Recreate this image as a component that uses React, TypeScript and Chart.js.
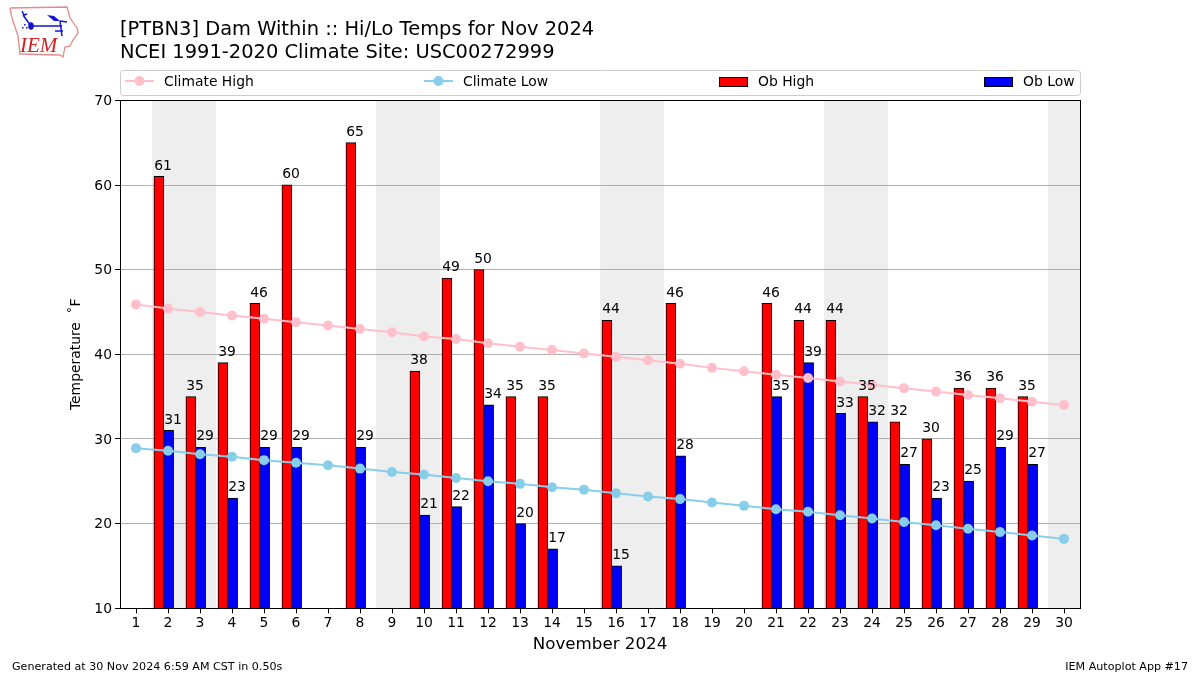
import React, { useEffect, useRef } from "react";
import { Chart, registerables } from "chart.js";

Chart.register(...registerables);

const days = Array.from({ length: 30 }, (_, i) => i + 1);
const obHighDays = [2, 3, 4, 5, 6, 8, 10, 11, 12, 13, 14, 16, 18, 21, 22, 23, 24, 25, 26, 27, 28, 29];
const obHigh = [61, 35, 39, 46, 60, 65, 38, 49, 50, 35, 35, 44, 46, 46, 44, 44, 35, 32, 30, 36, 36, 35];
const obLow = [31, 29, 23, 29, 29, 29, 21, 22, 34, 20, 17, 15, 28, 35, 39, 33, 32, 27, 23, 25, 29, 27];
const climateHigh = [45.9, 45.4, 45.0, 44.6, 44.2, 43.8, 43.4, 43.0, 42.6, 42.1, 41.8, 41.3, 40.9, 40.5, 40.1, 39.7, 39.3, 38.9, 38.4, 38.0, 37.6, 37.2, 36.8, 36.4, 36.0, 35.6, 35.2, 34.8, 34.4, 34.0];
const climateLow = [28.9, 28.6, 28.2, 27.9, 27.5, 27.2, 26.9, 26.5, 26.1, 25.8, 25.4, 25.0, 24.7, 24.3, 24.0, 23.6, 23.2, 22.9, 22.5, 22.1, 21.7, 21.4, 21.0, 20.6, 20.2, 19.8, 19.4, 19.0, 18.6, 18.2];
const weekendBands = [[1.5, 3.5], [8.5, 10.5], [15.5, 17.5], [22.5, 24.5], [29.5, 30.5]];
const titleLines = ["[PTBN3] Dam Within :: Hi/Lo Temps for Nov 2024", "NCEI 1991-2020 Climate Site: USC00272999"];
const footerLeft = "Generated at 30 Nov 2024 6:59 AM CST in 0.50s";
const footerRight = "IEM Autoplot App #17";
const xTitle = "November 2024";
const yTitle = "Temperature \u2009\u200A\u02DAF";

const FONT = '"DejaVu Sans"';
const HIGH_OFFSET = -0.285;
const LOW_OFFSET = 0.02;

const bandsPlugin = {
  id: "bands",
  beforeDraw(chart: any) {
    const { ctx, chartArea: a, scales } = chart;
    ctx.save();
    ctx.fillStyle = "#eeeeee";
    for (const [s, e] of weekendBands) {
      const l = scales.x.getPixelForValue(s);
      const r = scales.x.getPixelForValue(e);
      ctx.fillRect(l, a.top, r - l, a.bottom - a.top);
    }
    ctx.restore();
  },
};

const overlayPlugin = {
  id: "overlay",
  afterDatasetsDraw(chart: any) {
    const { ctx, chartArea: a, scales, data } = chart;
    ctx.save();
    // frame
    ctx.strokeStyle = "#000";
    ctx.lineWidth = 1;
    ctx.strokeRect(Math.floor(a.left) + 0.5, Math.floor(a.top) + 0.5, Math.round(a.right - a.left), Math.round(a.bottom - a.top));

    // value labels
    ctx.fillStyle = "#000";
    ctx.font = `13.9px ${FONT}`;
    ctx.textAlign = "center";
    ctx.textBaseline = "alphabetic";
    obHighDays.forEach((d, i) => {
      ctx.fillText(String(obHigh[i]), scales.x.getPixelForValue(d) - 5, Math.round(scales.y.getPixelForValue(obHigh[i]) - 7));
      ctx.fillText(String(obLow[i]), scales.x.getPixelForValue(d) + 5, Math.round(scales.y.getPixelForValue(obLow[i]) - 7));
    });

    // legend
    ctx.strokeStyle = "#cccccc";
    ctx.fillStyle = "#fff";
    ctx.beginPath();
    ctx.roundRect(120.5, 70.5, 960, 25, 3);
    ctx.fill();
    ctx.stroke();
    const slots = [
      { h: 125, t: 164 },
      { h: 424, t: 463 },
      { h: 719, t: 758 },
      { h: 984, t: 1023 },
    ];
    data.datasets.forEach((ds: any) => {
      const slot = slots[ds.legendIndex];
      if (ds.type === "line") {
        ctx.strokeStyle = ds.borderColor;
        ctx.lineWidth = 2;
        ctx.beginPath();
        ctx.moveTo(slot.h, 81);
        ctx.lineTo(slot.h + 29, 81);
        ctx.stroke();
        ctx.fillStyle = ds.borderColor;
        ctx.beginPath();
        ctx.arc(slot.h + 14.5, 81, 5, 0, Math.PI * 2);
        ctx.fill();
      } else {
        ctx.fillStyle = ds.backgroundColor;
        ctx.strokeStyle = "#000";
        ctx.lineWidth = 1;
        ctx.fillRect(slot.h, 77, 28, 9);
        ctx.strokeRect(slot.h + 0.5, 77.5, 28, 9);
      }
      ctx.fillStyle = "#000";
      ctx.font = `13.9px ${FONT}`;
      ctx.textAlign = "left";
      ctx.textBaseline = "alphabetic";
      ctx.fillText(ds.label, slot.t, 86);
    });

    // title
    ctx.font = `19.44px ${FONT}`;
    ctx.fillText(titleLines[0], 120, 35);
    ctx.fillText(titleLines[1], 120, 57.5);

    // footer
    ctx.font = `11.12px ${FONT}`;
    ctx.fillText(footerLeft, 12, 670);
    ctx.textAlign = "right";
    ctx.fillText(footerRight, 1188, 670);

    // logo
    ctx.strokeStyle = "#e58a8a";
    ctx.lineWidth = 1.3;
    ctx.beginPath();
    const outline = [[10, 8], [67, 7], [70, 18], [77, 28], [78, 33], [73, 40], [70, 46], [65, 47], [63, 57], [60, 55], [20, 54], [18, 36], [12, 18], [10, 8]];
    outline.forEach(([x, y], i) => (i ? ctx.lineTo(x, y) : ctx.moveTo(x, y)));
    ctx.stroke();
    ctx.strokeStyle = "#1414d2";
    ctx.fillStyle = "#1414d2";
    ctx.lineWidth = 1.5;
    ctx.beginPath();
    ctx.moveTo(31, 26); ctx.lineTo(62, 26);
    ctx.moveTo(31, 26); ctx.lineTo(23, 15);
    ctx.moveTo(22, 11); ctx.lineTo(24, 15); ctx.lineTo(27, 14);
    ctx.moveTo(60, 21); ctx.lineTo(67, 22);
    ctx.moveTo(60, 21); ctx.lineTo(62, 36);
    ctx.moveTo(55, 31); ctx.lineTo(63, 31);
    ctx.stroke();
    ctx.beginPath();
    ctx.ellipse(31, 26, 2.8, 3.8, 0, 0, Math.PI * 2);
    ctx.fill();
    ctx.beginPath();
    ctx.moveTo(47, 15); ctx.lineTo(54, 16); ctx.lineTo(60, 21); ctx.lineTo(54, 21); ctx.closePath();
    ctx.fill();
    ctx.fillRect(24, 24, 1.5, 1.5);
    ctx.fillRect(22, 27, 1.5, 1.5);
    ctx.fillRect(26, 27, 1.5, 1.5);
    ctx.fillStyle = "#d42020";
    ctx.font = `italic 21px "Liberation Serif"`;
    ctx.textAlign = "left";
    ctx.fillText("IEM", 20, 52);
    ctx.restore();
  },
};

export default function App() {
  const ref = useRef<HTMLCanvasElement>(null);
  useEffect(() => {
    document.body.style.margin = "0";
    const mkBar = (label: string, color: string, values: number[], offset: number, legendIndex: number) => ({
      type: "bar",
      label,
      legendIndex,
      data: obHighDays.map((d, i) => ({ x: d + offset, y: values[i] })),
      backgroundColor: color,
      borderColor: "#000",
      borderWidth: 1,
      barThickness: 9.6,
      inflateAmount: 0.5,
      grouped: false,
      order: 2,
    });
    const mkLine = (label: string, color: string, values: number[], legendIndex: number) => ({
      type: "line",
      label,
      legendIndex,
      data: days.map((d, i) => ({ x: d, y: values[i] })),
      borderColor: color,
      backgroundColor: color,
      pointBackgroundColor: color,
      pointBorderColor: color,
      borderWidth: 2,
      pointRadius: 5,
      pointBorderWidth: 0,
      tension: 0,
      order: 1,
    });
    const chart = new Chart(ref.current as HTMLCanvasElement, {
      data: {
        datasets: [
          mkBar("Ob High", "#ff0000", obHigh, HIGH_OFFSET, 2),
          mkBar("Ob Low", "#0000ff", obLow, LOW_OFFSET, 3),
          mkLine("Climate High", "#ffc0cb", climateHigh, 0),
          mkLine("Climate Low", "#87ceeb", climateLow, 1),
        ],
      } as any,
      options: {
        responsive: false,
        animation: false,
        layout: { padding: { top: 100.35, right: 120, left: 0, bottom: 0 } },
        plugins: { legend: { display: false }, title: { display: false }, tooltip: { enabled: false } },
        scales: {
          x: {
            type: "linear",
            offset: false,
            min: 0.5,
            max: 30.5,
            afterBuildTicks: (s: any) => { s.ticks = days.map((v) => ({ value: v })); },
            afterFit: (s: any) => { s.height = 66.7; },
            grid: { offset: false, drawOnChartArea: false, tickLength: 5, tickColor: "#000", tickWidth: 1 },
            border: { color: "#000", width: 1 },
            ticks: { autoSkip: false, maxRotation: 0, color: "#000", padding: 2, font: { family: FONT, size: 13.9 }, callback: (v: any) => String(v) },
            title: { display: true, text: xTitle, color: "#000", font: { family: FONT, size: 16.7 }, padding: { top: 0, bottom: 20 } },
          },
          y: {
            type: "linear",
            min: 10,
            max: 70,
            afterFit: (s: any) => { s.width = 120; },
            grid: { color: "#b0b0b0", tickColor: "#000", tickLength: 5, lineWidth: 1 },
            border: { color: "#000", width: 1 },
            ticks: { stepSize: 10, color: "#000", padding: 3, labelOffset: 1, font: { family: FONT, size: 13.9 } },
            title: { display: true, text: yTitle, color: "#000", font: { family: FONT, size: 13.9 }, padding: { top: 68, bottom: 0 } },
          },
        },
      } as any,
      plugins: [bandsPlugin, overlayPlugin],
    } as any);
    return () => chart.destroy();
  }, []);
  return <canvas ref={ref} width={1200} height={675} style={{ display: "block", background: "#fff" }} />;
}
